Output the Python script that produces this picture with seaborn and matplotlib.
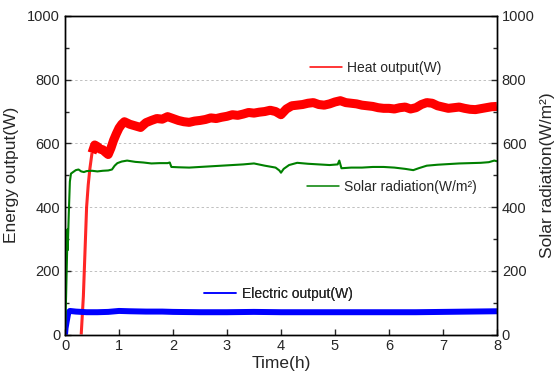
import numpy as np
import pandas as pd
import matplotlib
matplotlib.use("Agg")
import matplotlib.pyplot as plt
import seaborn as sns
from matplotlib.lines import Line2D
from matplotlib.ticker import MultipleLocator

# heat output (W)
heat_t = [0.30, 0.34, 0.37, 0.40, 0.43, 0.46, 0.50, 0.55, 0.60, 0.65, 0.70, 0.75, 0.80, 0.85,
          0.90, 0.95, 1.00, 1.05, 1.10, 1.20, 1.30, 1.40, 1.50, 1.60, 1.70, 1.80, 1.90, 2.00,
          2.10, 2.20, 2.30, 2.40, 2.50, 2.60, 2.70, 2.80, 2.90, 3.00, 3.10, 3.20, 3.30, 3.40,
          3.50, 3.60, 3.70, 3.80, 3.90, 4.00, 4.10, 4.20, 4.30, 4.40, 4.50, 4.60, 4.70, 4.80,
          4.90, 5.00, 5.10, 5.20, 5.30, 5.40, 5.50, 5.60, 5.70, 5.80, 5.90, 6.00, 6.10, 6.20,
          6.30, 6.40, 6.50, 6.60, 6.70, 6.80, 6.90, 7.00, 7.10, 7.20, 7.30, 7.40, 7.50, 7.60,
          7.70, 7.80, 7.90, 8.00]
heat_w = [0, 120, 260, 400, 470, 520, 570, 595, 590, 582, 580, 572, 565, 585,
          610, 630, 648, 660, 668, 660, 655, 650, 665, 672, 678, 676, 684, 678,
          672, 668, 666, 670, 672, 675, 680, 678, 682, 685, 690, 688, 692, 697,
          695, 698, 700, 704, 700, 690, 708, 718, 720, 722, 726, 728, 722, 720,
          724, 730, 734, 728, 726, 724, 720, 718, 716, 712, 710, 710, 708, 712,
          714, 708, 712, 722, 728, 726, 718, 714, 710, 712, 714, 710, 707, 706,
          709, 712, 715, 716]

# solar radiation (W/m2)
solar_t = [0.00, 0.02, 0.04, 0.045, 0.05, 0.07, 0.09, 0.11, 0.15, 0.20, 0.25, 0.30, 0.35,
           0.40, 0.50, 0.60, 0.70, 0.80, 0.87, 0.92, 0.97, 1.05, 1.15, 1.30, 1.45, 1.60,
           1.75, 1.90, 1.94, 1.97, 2.10, 2.30, 2.50, 2.70, 2.90, 3.10, 3.30, 3.50, 3.70,
           3.90, 3.97, 4.00, 4.05, 4.15, 4.30, 4.50, 4.70, 4.90, 5.05, 5.08, 5.12, 5.30,
           5.50, 5.70, 5.90, 6.10, 6.30, 6.45, 6.55, 6.70, 6.90, 7.10, 7.30, 7.50, 7.70,
           7.85, 7.95, 8.00]
solar_w = [0, 120, 270, 330, 265, 380, 480, 505, 510, 516, 518, 512, 510,
           513, 514, 512, 514, 515, 518, 530, 538, 543, 546, 542, 540, 537,
           538, 538, 540, 526, 525, 524, 526, 528, 530, 532, 534, 537, 530,
           524, 515, 508, 520, 532, 539, 536, 534, 532, 534, 546, 522, 524,
           524, 526, 526, 524, 520, 516, 522, 530, 533, 535, 537, 538, 539,
           541, 546, 544]

# electric output (W)
elec_t = [0.00, 0.01, 0.03, 0.06, 0.09, 0.2, 0.4, 0.6, 0.8, 1.0, 1.2, 1.5, 1.8, 2.0, 2.5,
          3.0, 3.5, 4.0, 4.5, 5.0, 5.5, 6.0, 6.5, 7.0, 7.5, 8.0]
elec_w = [0, 20, 40, 68, 74, 72, 70, 70, 71, 74, 73, 72, 72, 71, 70,
          70, 71, 70, 70, 70, 70, 70, 70, 71, 72, 73]

sns.set_style("ticks")
plt.rcParams['font.family'] = ['Liberation Sans', 'DejaVu Sans']
plt.rcParams['font.size'] = 10

fig, ax = plt.subplots(figsize=(5.59, 3.8), dpi=100)
fig.subplots_adjust(left=0.1163, right=0.889, bottom=0.1197, top=0.958)
ax2 = ax.twinx()

# steep start-up part of the heat curve is thin, the noisy plateau is a wide band
sns.lineplot(x=heat_t[:7], y=heat_w[:7], ax=ax, color="#ff0000", lw=2.2, sort=False,
             solid_capstyle="butt", alpha=0.85)
sns.lineplot(x=heat_t[6:], y=heat_w[6:], ax=ax, color="#ff0000", lw=6.5, sort=False,
             solid_capstyle="butt")
sns.lineplot(x=elec_t, y=elec_w, ax=ax, color="#0000ff", lw=4.3, sort=False,
             solid_capstyle="butt")
sns.lineplot(x=solar_t, y=solar_w, ax=ax2, color="#008000", lw=1.5, sort=False)

for a in (ax, ax2):
    a.set_xlim(0, 8)
    a.set_ylim(0, 1000)
    a.yaxis.set_major_locator(MultipleLocator(200))
    a.yaxis.set_minor_locator(MultipleLocator(100))
    a.tick_params(which="both", direction="in", labelsize=10.5, width=1)
    a.tick_params(which="major", length=4)
    a.tick_params(which="minor", length=3)
    for s in a.spines.values():
        s.set_linewidth(1)
        s.set_color("black")
ax.xaxis.set_major_locator(MultipleLocator(1))
ax.tick_params(axis="x", top=False)
ax.grid(axis="y", color="#c0c0c0", ls=(0, (2.5, 2.5)), lw=0.7)
ax.set_axisbelow(True)

ax.set_xlabel("Time(h)", fontsize=12.5, labelpad=2)
ax.set_ylabel("Energy output(W)", fontsize=12.5, labelpad=6)
ax2.set_ylabel("Solar radiation(W/m²)", fontsize=12.5, labelpad=4)

# separate legend labels placed beside each curve
entries = [("Heat output(W)", "#ff0000", 0.567, 0.837),
           ("Solar radiation(W/m²)", "#008000", 0.560, 0.463),
           ("Electric output(W)", "#0000ff", 0.322, 0.127)]
for label, col, lx, ly in entries:
    h = Line2D([], [], color=col, lw=1.1)
    lg = ax2.legend([h], [label], loc="center left", bbox_to_anchor=(lx, ly),
                    frameon=False, borderpad=0, borderaxespad=0,
                    handlelength=2.3, handletextpad=0.4, fontsize=10)
    ax2.add_artist(lg)

fig.savefig("out.png", dpi=100)
